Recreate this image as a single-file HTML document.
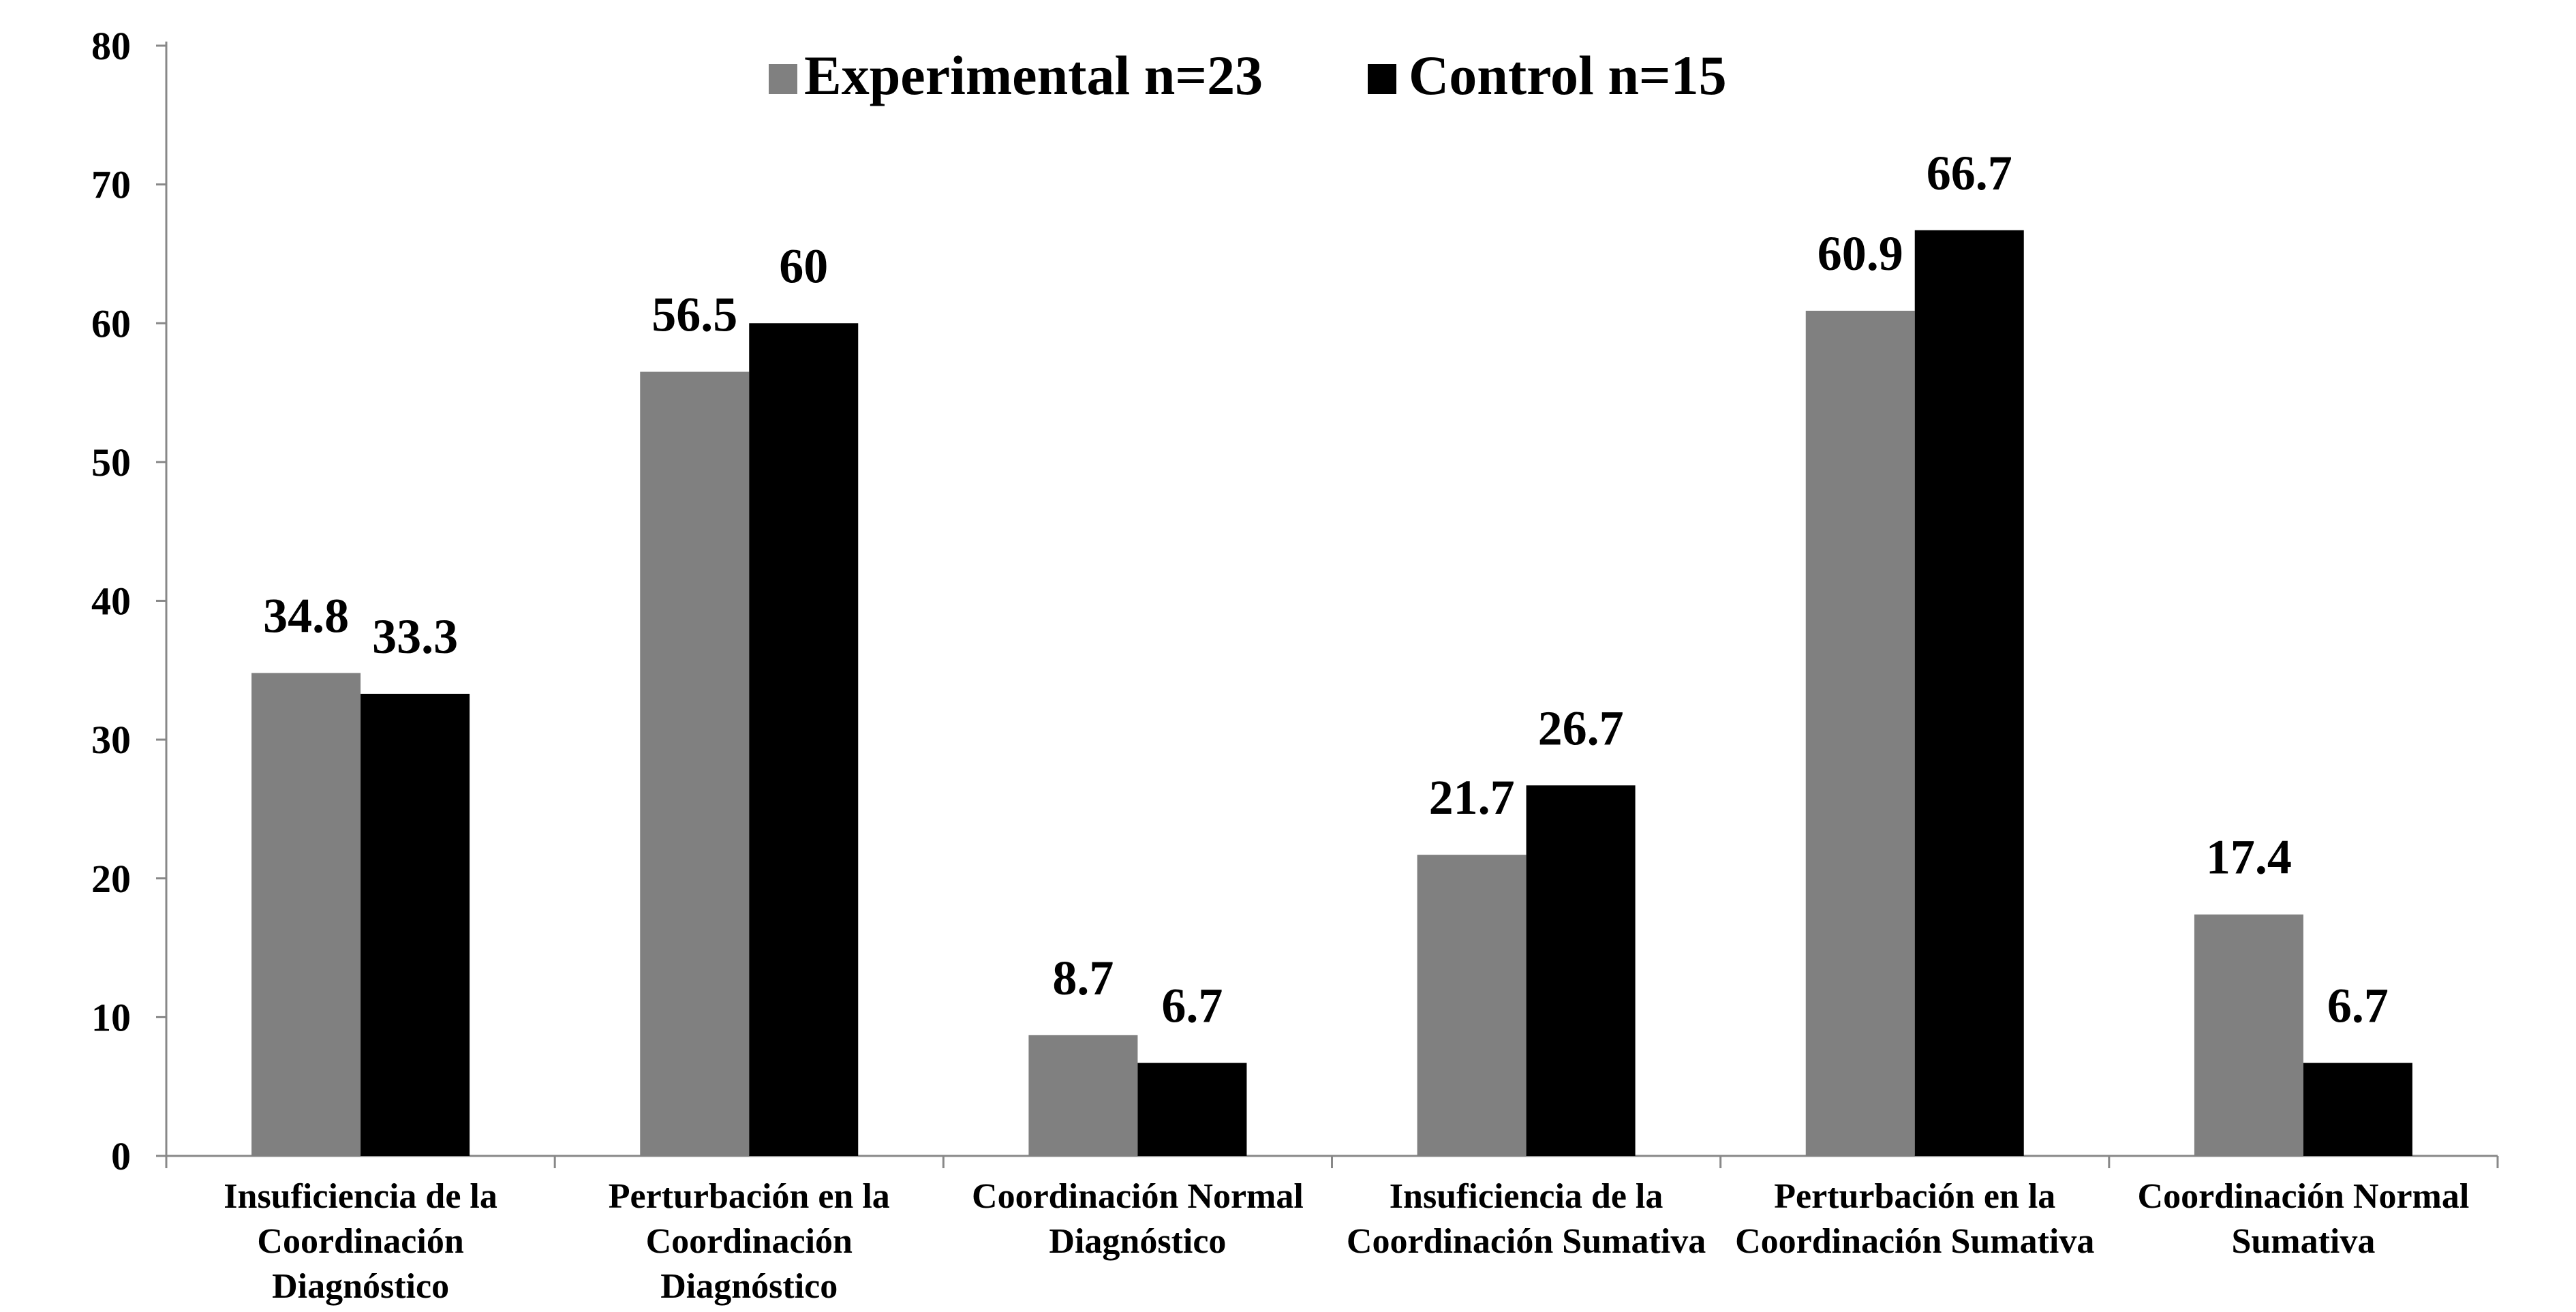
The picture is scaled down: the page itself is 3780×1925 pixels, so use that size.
<!DOCTYPE html>
<html><head><meta charset="utf-8"><style>
html,body{margin:0;padding:0;background:#fff;}
svg{display:block;font-family:"Liberation Serif",serif;font-weight:bold;}
</style></head><body>
<svg id="chart" width="3780" height="1925" viewBox="0 0 3780 1925" xmlns="http://www.w3.org/2000/svg">
<g id="legend">
<rect x="1128" y="94" width="42" height="44" fill="#808080"/>
<text x="1180" y="138" font-size="82">Experimental n=23</text>
<rect x="2007" y="94" width="42" height="44" fill="#000"/>
<text x="2067" y="138" font-size="82">Control n=15</text>
</g>
<g id="axes"></g>
<g id="bars"></g>
</svg>
<script>
const categories = [
 ["Insuficiencia de la","Coordinación","Diagnóstico"],
 ["Perturbación en la","Coordinación","Diagnóstico"],
 ["Coordinación Normal","Diagnóstico"],
 ["Insuficiencia de la","Coordinación Sumativa"],
 ["Perturbación en la","Coordinación Sumativa"],
 ["Coordinación Normal","Sumativa"]
];
const experimental = [34.8, 56.5, 8.7, 21.7, 60.9, 17.4];
const control = [33.3, 60, 6.7, 26.7, 66.7, 6.7];
const expLabels = ["34.8","56.5","8.7","21.7","60.9","17.4"];
const ctrlLabels = ["33.3","60","6.7","26.7","66.7","6.7"];
const yTicks = [0,10,20,30,40,50,60,70,80];

const NS="http://www.w3.org/2000/svg";
const X0=244, X1=3665, Y0=1696, Y80=67;
const W=(X1-X0)/categories.length, BW=160;
function y(v){return Y0-(v/80)*(Y0-Y80);}
function xCat(i){return X0+i*W;}
function mk(tag,attrs,parent){const e=document.createElementNS(NS,tag);for(const k in attrs)e.setAttribute(k,attrs[k]);parent.appendChild(e);return e;}
const axes=document.getElementById('axes'), bars=document.getElementById('bars');

yTicks.forEach(t=>{
 const tk=mk('line',{x1:229,x2:X0,y1:y(t),y2:y(t),stroke:'#888','stroke-width':3},axes);
 
 
 const lb=mk('text',{x:192,y:y(t)+20,'font-size':58,'text-anchor':'end'},axes);
 lb.textContent=t;
 
 
});
const ya=mk('line',{x1:X0,x2:X0,y1:Y80-6,y2:Y0+18,stroke:'#888','stroke-width':3},axes);


const xa=mk('line',{x1:X0-15,x2:X1,y1:Y0,y2:Y0,stroke:'#888','stroke-width':3},axes);


for(let i=0;i<=categories.length;i++){
 const tk=mk('line',{x1:xCat(i),x2:xCat(i),y1:Y0,y2:Y0+18,stroke:'#888','stroke-width':3},axes);
 
 
}
categories.forEach((lines,i)=>{
 const cx=xCat(i)+W/2;
 lines.forEach((s,j)=>{
  const t=mk('text',{x:cx,y:1772+j*66,'font-size':52,'text-anchor':'middle'},axes);
  t.textContent=s;
  
  
 });
 const gap=(W-2*BW)/2;
 const ex=xCat(i)+gap, cx2=ex+BW;
 const b1=mk('rect',{x:ex,y:y(experimental[i]),width:BW,height:Y0-y(experimental[i]),fill:'#808080'},bars);
 
 
 const b2=mk('rect',{x:cx2,y:y(control[i]),width:BW,height:Y0-y(control[i]),fill:'#000'},bars);
 
 
 const l1=mk('text',{x:ex+BW/2,y:y(experimental[i])-60,'font-size':72,'text-anchor':'middle'},bars);
 l1.textContent=expLabels[i];
 
 
 const l2=mk('text',{x:cx2+BW/2,y:y(control[i])-60,'font-size':72,'text-anchor':'middle'},bars);
 l2.textContent=ctrlLabels[i];
 
 
});
</script>
</body></html>
